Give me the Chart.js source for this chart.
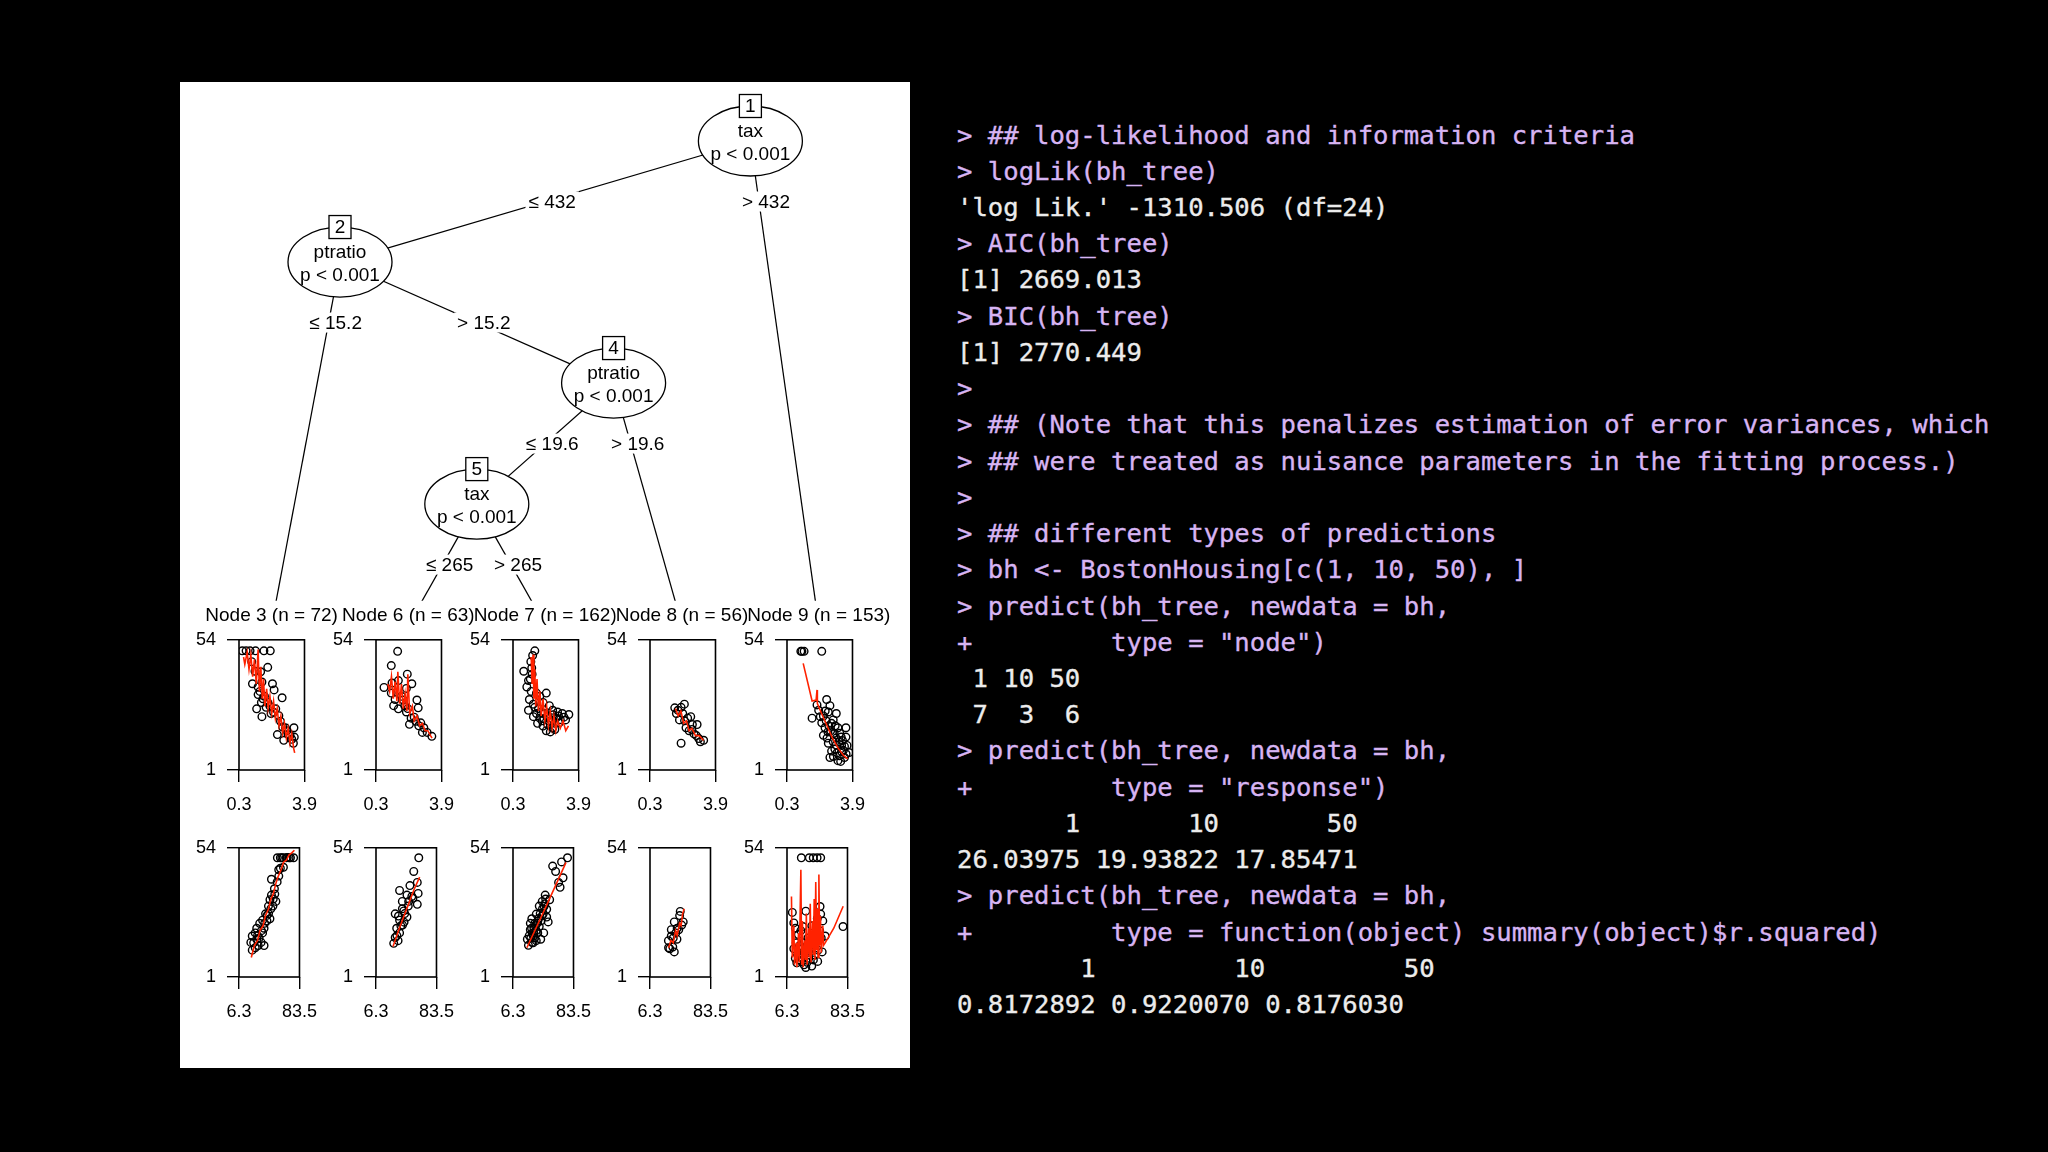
<!DOCTYPE html>
<html><head><meta charset="utf-8">
<script src="https://cdn.jsdelivr.net/npm/chart.js@4.4.1/dist/chart.umd.min.js"></script>
<style>
html,body{margin:0;padding:0;background:#000;width:2048px;height:1152px;overflow:hidden;}
#panel{position:absolute;left:180px;top:82px;width:730px;height:986px;background:#fff;}
canvas{position:absolute;}
#console{position:absolute;left:957px;top:116.5px;font-family:"DejaVu Sans Mono",monospace;font-size:25.6px;line-height:36.24px;white-space:pre;color:#ececec;-webkit-text-stroke:0.35px currentColor;}
#console .c{color:#d7b4f3;}
</style></head><body>
<div id="panel"></div>
<div id="console"></div>
<script>
// ---------------- tree structure ----------------
const treeNodeIds = [1, 2, 3, 4, 5, 6, 7, 8, 9];
const treeNodeX = [4.5, 1.5, 1, 3.5, 2.5, 2, 3, 4, 5];      // terminal-node index positions
const treeNodeLevel = [0, 1, 4, 2, 3, 4, 4, 4, 4];
const splitVariables = {1: 'tax', 2: 'ptratio', 4: 'ptratio', 5: 'tax'};
const splitPValues = {1: 'p < 0.001', 2: 'p < 0.001', 4: 'p < 0.001', 5: 'p < 0.001'};
const edgeParents = [1, 1, 2, 2, 4, 4, 5, 5];
const edgeChildren = [2, 9, 3, 4, 5, 8, 6, 7];
const edgeLabels = ['≤ 432', '> 432', '≤ 15.2', '> 15.2', '≤ 19.6', '> 19.6', '≤ 265', '> 265'];
const leafIds = [3, 6, 7, 8, 9];
const leafSizes = [72, 63, 162, 56, 153];

// ---------------- tick labels ----------------
const medvTicks = [1, 54];
const lstatTicks = [0.3, 3.9];
const rm2Ticks = [6.3, 83.5];

// ---------------- terminal node data: log(lstat) vs medv ----------------
const node3Lstat = [[0.48,49.5],[0.69,49.5],[0.91,49.5],[1.21,49.5],[1.67,49.5],[2.02,49.5],[1.00,45.1],[1.18,41.2],[1.49,41.0],[1.88,42.8],[1.04,36.1],[1.35,34.8],[1.56,36.8],[2.14,36.1],[2.23,33.6],[1.35,31.7],[1.70,31.0],[2.67,30.4],[1.53,28.5],[1.79,26.5],[1.56,22.7],[2.06,24.0],[2.32,25.9],[2.49,23.1],[2.58,20.8],[2.41,15.4],[2.76,13.1],[2.93,17.0],[3.11,15.1],[3.32,18.2],[3.34,14.4],[3.29,11.9],[2.85,18.2],[1.27,25.9],[1.88,28.5],[1.45,33.0],[1.62,30.0],[2.0,27.0],[2.2,24.5],[2.7,18.5],[3.0,15.5],[3.2,13.5]];
const node3LstatFit = [[0.55,47],[0.62,44],[0.75,49],[0.85,42],[0.95,48],[1.05,39],[1.15,46],[1.25,36],[1.35,50],[1.42,33],[1.5,43],[1.58,30],[1.65,38],[1.72,27],[1.82,34],[1.9,26],[2.0,31],[2.1,24],[2.2,29],[2.3,22],[2.4,26],[2.5,19],[2.6,23],[2.7,16],[2.8,20],[2.9,14],[3.0,18],[3.1,12],[3.2,16],[3.3,10],[3.36,8]];
const node6Lstat = [[1.49,49.3],[1.14,43.5],[0.74,34.6],[1.18,36.4],[1.53,37.4],[2.02,40.0],[2.27,36.1],[1.97,34.2],[2.55,29.5],[2.62,26.3],[1.14,32.3],[1.35,29.7],[1.70,31.0],[1.53,25.9],[1.97,24.6],[2.23,22.1],[2.49,20.8],[2.76,20.2],[2.93,18.2],[3.11,16.3],[3.37,14.7],[2.85,16.3],[1.88,27.2],[2.14,19.6],[1.27,27.2],[1.8,29.5],[2.05,26.0],[2.4,22.5],[2.65,19.0]];
const node6LstatFit = [[0.95,36],[1.05,33],[1.15,39],[1.25,30],[1.35,37],[1.45,29],[1.5,41],[1.6,28],[1.7,36],[1.8,26],[1.9,32],[2.0,25],[2.05,40],[2.15,24],[2.3,27],[2.4,21],[2.55,23],[2.7,19],[2.85,20],[3.0,17],[3.15,17],[3.3,15],[3.38,14]];
const node7Lstat = [[1.50,49.5],[1.38,47.6],[1.28,45.1],[1.33,42.5],[0.89,41.2],[1.15,37.4],[1.06,34.8],[1.20,29.7],[1.15,25.3],[1.42,27.8],[1.59,32.3],[1.77,31.0],[2.13,32.3],[1.95,28.5],[2.30,27.2],[2.48,25.3],[2.75,24.6],[3.01,24.0],[3.37,23.6],[3.19,21.4],[2.84,20.2],[2.48,18.2],[2.13,17.0],[1.95,18.9],[1.77,22.1],[1.59,24.0],[2.30,20.8],[2.66,22.1],[2.04,24.0],[1.42,22.7],[1.7,26],[1.85,24.5],[2.0,22],[2.2,23],[2.4,21],[2.6,20],[2.9,21.5],[2.2,19.5],[1.9,21],[1.65,20],[2.5,23.5],[2.8,23],[3.1,22.5],[2.35,16.5],[2.6,17.5],[1.5,26.5],[1.3,33],[1.25,38],[1.35,40]];
const node7LstatFit = [[1.3,47],[1.35,36],[1.4,48],[1.45,30],[1.5,42],[1.55,27],[1.62,38],[1.7,25],[1.78,33],[1.85,23],[1.95,30],[2.05,21],[2.15,27],[2.25,19],[2.35,25],[2.45,18],[2.55,23],[2.65,17],[2.75,21],[2.9,18],[3.05,21],[3.2,17],[3.35,19]];
const node8Lstat = [[1.66,26.3],[1.84,25.3],[2.01,26.5],[2.19,27.8],[2.10,24.0],[2.37,22.1],[2.54,22.7],[2.63,19.5],[2.89,19.5],[2.45,17.0],[2.72,15.7],[2.98,13.8],[3.25,13.1],[3.07,12.5],[2.01,11.9],[1.92,21.4],[2.28,18.2],[1.75,24.0],[2.2,21],[2.6,17.5],[2.85,15]];
const node8LstatFit = [[1.7,26],[1.85,23],[2.0,25],[2.15,20],[2.3,21],[2.45,17],[2.6,18],[2.8,15],[3.0,15],[3.25,13]];
const node9Lstat = [[1.06,49.3],[1.12,49.3],[1.24,49.3],[2.21,49.3],[2.48,29.7],[1.95,27.5],[2.04,25.3],[1.68,22.1],[2.57,24.6],[3.01,24.0],[2.84,21.4],[2.39,18.2],[3.10,18.2],[3.54,18.2],[2.30,15.1],[2.84,15.7],[3.28,14.4],[3.54,14.4],[2.57,11.9],[3.01,11.2],[3.46,10.6],[2.75,8.7],[3.19,6.8],[3.46,6.1],[3.10,4.8],[2.66,6.1],[2.13,22.7],[2.66,27.2],[2.21,20.2],[2.84,12.5],[3.72,8.1],[2.93,9.5],[3.30,8.5],[2.50,14.0],[2.3,23],[2.45,21],[2.6,19],[2.7,17],[2.9,16],[3.0,14],[3.15,12.5],[3.3,11],[3.4,9],[3.55,7.5],[2.75,20],[2.95,19],[3.2,16],[3.35,13],[2.55,16.5],[2.4,25],[3.05,8],[3.6,11],[3.25,4.5],[2.85,6.5]];
const node9LstatFit = [[1.19,44.4],[1.68,29.1],[1.9,29.5],[1.95,33.6],[1.97,28],[2.2,24],[2.5,19],[2.8,14],[3.1,10],[3.4,7],[3.63,5.5]];

// ---------------- terminal node data: rm^2 vs medv ----------------
const node3Rm2 = [[55.3,49.9],[59.1,49.9],[62.8,49.9],[66.6,49.9],[70.3,49.9],[76.0,49.9],[59.1,45.6],[57.1,42.4],[47.7,41.1],[51.5,37.2],[47.7,34.6],[53.4,32.0],[45.8,32.7],[43.9,30.1],[49.6,30.1],[40.2,26.9],[45.8,24.9],[36.4,24.3],[32.7,23.0],[28.9,21.0],[38.3,21.0],[27.0,19.1],[23.2,17.8],[21.4,15.2],[28.9,16.5],[34.5,15.2],[38.3,13.9],[30.8,13.9],[23.2,12.0],[36.4,19.1],[42.1,26.3],[25,15],[27,13],[30,18],[32,17],[35,20],[39,23],[42,24],[44,27],[47,29],[50,33],[52,35],[55,40],[57,45],[63,46],[68,50],[72,49.9],[61,49.9]];
const node3Rm2Fit = [[22,9],[26,14],[30,16],[33,20],[37,22],[40,26],[44,29],[47,33],[50,35],[53,39],[56,42],[60,45],[63,48],[67,49],[70,51],[74,52],[77,53]];
const node6Rm2 = [[60.9,49.9],[54.5,44.3],[59.0,39.8],[60.1,35.3],[36.4,36.5],[49.6,38.5],[45.8,34.6],[53.4,33.3],[39.9,32.0],[47.5,30.1],[41.8,28.1],[30.8,26.9],[45.8,25.6],[36.4,24.3],[40.2,22.3],[32.7,21.0],[36.4,19.1],[30.8,17.2],[28.9,14.8],[34.5,15.9],[42.1,23.5],[59.0,30.8],[33,18],[38,22],[43,27],[48,32],[52,34],[35,26],[40,29]];
const node6Rm2Fit = [[28,13.5],[35,20],[42,26],[48,31],[55,37],[62,42]];
const node7Rm2 = [[75.9,49.9],[68.3,48.2],[56.9,46.5],[60.7,44.3],[70.2,41.7],[66.4,37.8],[64.5,39.8],[47.4,34.6],[43.6,32.0],[53.1,32.7],[39.8,30.1],[49.3,28.8],[36.0,26.8],[43.6,26.2],[51.2,23.6],[30.3,24.9],[34.1,23.0],[39.8,21.7],[28.4,20.4],[37.9,19.1],[32.2,17.8],[24.6,16.5],[41.7,16.5],[30.3,15.2],[36.0,15.9],[45.5,19.1],[28.4,23.0],[49.3,25.6],[26,14],[33,19],[38,24],[44,29],[47,31],[27,18],[29,17],[31,19],[33,21],[35,22],[37,23],[39,25],[41,27],[42,24],[45,27],[46,30],[48,33],[32,15],[34,17],[30,21],[36,20]];
const node7Rm2Fit = [[24,13],[50,31],[74,48]];
const node8Rm2 = [[44.9,27.9],[44.1,26.2],[48.7,23.6],[37.3,23.6],[33.5,20.4],[39.2,19.1],[29.8,15.9],[40.7,16.5],[35.4,13.3],[31.6,12.6],[37.3,11.3],[43.0,20.4],[46.8,22.3],[33.5,17.8],[36,17],[41,21],[30,13]];
const node8Rm2Fit = [[30,13],[33,16],[36,15],[39,20],[41,18],[44,23],[46,22],[48,27],[50,29]];
const node9Rm2 = [[24.6,49.9],[34.8,49.9],[39.8,49.9],[44.7,49.9],[49.3,49.9],[13.1,27.5],[15.0,23.2],[30.3,28.0],[48.5,29.9],[49.3,26.8],[77.8,21.7],[26.5,21.7],[20.8,18.4],[55.0,17.8],[15.0,12.6],[16.9,8.7],[30.3,4.9],[37.9,5.5],[45.5,7.4],[51.2,11.3],[24.6,7.4],[34.1,8.7],[41.7,10.0],[22.7,13.9],[43.6,19.1],[36.0,15.2],[28.4,11.3],[18.8,6.8],[20,10],[22,8],[26,9],[28,6],[32,7],[35,11],[38,13],[40,8],[42,14],[44,16],[46,12],[48,20],[50,17],[52,24],[33,17],[27,15],[24,20],[38,22],[45,25],[30,13],[18,15],[17,21]];
const node9Rm2Fit = [[12,34],[13,9],[15,22],[16,6],[18,15],[19,5],[21,19],[22,7],[24,45],[25,6],[26,24],[27,5],[29,16],[30,8],[31,27],[32,6],[34,21],[35,9],[36,31],[37,7],[39,24],[40,10],[41,33],[42,8],[43,40],[44,12],[45,29],[46,9],[47,43],[48,14],[49,26],[50,11],[52,22],[53,14],[55,15],[66,21],[78,30]];

const topRowPoints = [node3Lstat, node6Lstat, node7Lstat, node8Lstat, node9Lstat];
const topRowFits = [node3LstatFit, node6LstatFit, node7LstatFit, node8LstatFit, node9LstatFit];
const bottomRowPoints = [node3Rm2, node6Rm2, node7Rm2, node8Rm2, node9Rm2];
const bottomRowFits = [node3Rm2Fit, node6Rm2Fit, node7Rm2Fit, node8Rm2Fit, node9Rm2Fit];

// ---------------- console text ----------------
const consoleLines = [
 "> ## log-likelihood and information criteria",
 "> logLik(bh_tree)",
 "'log Lik.' -1310.506 (df=24)",
 "> AIC(bh_tree)",
 "[1] 2669.013",
 "> BIC(bh_tree)",
 "[1] 2770.449",
 ">",
 "> ## (Note that this penalizes estimation of error variances, which",
 "> ## were treated as nuisance parameters in the fitting process.)",
 ">",
 "> ## different types of predictions",
 "> bh <- BostonHousing[c(1, 10, 50), ]",
 "> predict(bh_tree, newdata = bh,",
 "+         type = \"node\")",
 " 1 10 50",
 " 7  3  6",
 "> predict(bh_tree, newdata = bh,",
 "+         type = \"response\")",
 "       1       10       50",
 "26.03975 19.93822 17.85471",
 "> predict(bh_tree, newdata = bh,",
 "+         type = function(object) summary(object)$r.squared)",
 "        1         10         50",
 "0.8172892 0.9220070 0.8176030"
];
const con = document.getElementById('console');
consoleLines.forEach(l => {
  const d = document.createElement('div');
  d.textContent = l;
  if (l.startsWith('>') || l.startsWith('+')) d.className = 'c';
  con.appendChild(d);
});

// ---------------- charts ----------------
Chart.defaults.animation = false;
Chart.defaults.font.family = '"Liberation Sans", Arial, sans-serif';
Chart.defaults.plugins.legend.display = false;
Chart.defaults.plugins.tooltip.enabled = false;

const TREE_FONT = '19px "Liberation Sans", Arial, sans-serif';
const LEAF_LABEL_LEVEL = 3.916;
const EDGE_LABEL_SHIFT = 7;
const idx = id => treeNodeIds.indexOf(id);

const treePlugin = {
  id: 'treePlugin',
  afterDraw(chart) {
    const ctx = chart.ctx, sx = chart.scales.x, sy = chart.scales.y;
    ctx.save();
    ctx.font = TREE_FONT;
    ctx.textAlign = 'center';
    ctx.textBaseline = 'middle';
    edgeParents.forEach((p, i) => {
      const a = idx(p), b = idx(edgeChildren[i]);
      const t = 0.5 / (treeNodeLevel[b] - treeNodeLevel[a]);
      const xv = treeNodeX[a] + t * (treeNodeX[b] - treeNodeX[a]);
      const px = sx.getPixelForValue(xv) + EDGE_LABEL_SHIFT;
      const py = sy.getPixelForValue(treeNodeLevel[a] + 0.5);
      const w = ctx.measureText(edgeLabels[i]).width;
      ctx.fillStyle = '#fff';
      ctx.fillRect(px - w / 2 - 3, py - 10, w + 6, 20);
      ctx.fillStyle = '#000';
      ctx.fillText(edgeLabels[i], px, py + 1);
    });
    Object.keys(splitVariables).forEach(k => {
      const id = +k, i = idx(id);
      const cx = sx.getPixelForValue(treeNodeX[i]);
      const cy = sy.getPixelForValue(treeNodeLevel[i]);
      ctx.beginPath();
      ctx.ellipse(cx, cy, 52, 35, 0, 0, Math.PI * 2);
      ctx.fillStyle = '#fff'; ctx.fill();
      ctx.lineWidth = 1.3; ctx.strokeStyle = '#000'; ctx.stroke();
      ctx.fillStyle = '#000';
      ctx.fillText(splitVariables[id], cx, cy - 9);
      ctx.fillText(splitPValues[id], cx, cy + 14);
      ctx.fillStyle = '#fff';
      ctx.fillRect(cx - 11, cy - 35 - 11.5, 22, 23);
      ctx.lineWidth = 1.3;
      ctx.strokeRect(cx - 11, cy - 35 - 11.5, 22, 23);
      ctx.fillStyle = '#000';
      ctx.fillText(String(id), cx, cy - 34);
    });
    leafIds.forEach((id, k) => {
      const i = idx(id);
      const cx = sx.getPixelForValue(treeNodeX[i]);
      const cy = sy.getPixelForValue(LEAF_LABEL_LEVEL);
      const txt = 'Node ' + id + ' (n = ' + leafSizes[k] + ')';
      const w = ctx.measureText(txt).width;
      ctx.fillStyle = '#fff';
      ctx.fillRect(cx - w / 2, cy - 11, w, 22);
      ctx.fillStyle = '#000';
      ctx.fillText(txt, cx, cy + 1);
    });
    ctx.restore();
  }
};

function addCanvas(left, top, w, h) {
  const cv = document.createElement('canvas');
  cv.width = w; cv.height = h;
  cv.style.left = Math.round(left) + 'px';
  cv.style.top = Math.round(top) + 'px';
  cv.style.width = w + 'px'; cv.style.height = h + 'px';
  document.body.appendChild(cv);
  return cv;
}

const treeCanvas = addCanvas(180, 82, 730, 548);
const treeChart = new Chart(treeCanvas, {
  type: 'scatter',
  data: {
    datasets: edgeParents.map((p, i) => ({
      data: [
        {x: treeNodeX[idx(p)], y: treeNodeLevel[idx(p)]},
        {x: treeNodeX[idx(edgeChildren[i])], y: treeNodeLevel[idx(edgeChildren[i])]}
      ],
      showLine: true, borderColor: '#000', borderWidth: 1.25, pointRadius: 0, tension: 0
    }))
  },
  options: {
    responsive: false, devicePixelRatio: 1, events: [],
    layout: {padding: {left: 0, right: 0, top: 0, bottom: 29.2}},
    scales: {
      x: {type: 'linear', display: false, min: 0.3304, max: 5.6667},
      y: {type: 'linear', display: false, reverse: true, min: -0.4875, max: 3.799}
    }
  },
  plugins: [treePlugin]
});

const boxPlugin = {
  id: 'boxPlugin',
  afterDraw(chart) {
    const {ctx, chartArea: a} = chart;
    ctx.save();
    ctx.strokeStyle = '#000'; ctx.lineWidth = 1.6;
    ctx.strokeRect(a.left, a.top, a.right - a.left, a.bottom - a.top);
    ctx.restore();
  }
};

const PANEL_SHIFT = 2;
function makePanel(cx, boxTop, boxH, pts, fit, xTicks) {
  const W = 152, H = 14 + boxH + 50;
  const cv = addCanvas(cx + PANEL_SHIFT - 34.2 - 62, boxTop - 14, W, H);
  return new Chart(cv, {
    type: 'scatter',
    data: {
      datasets: [
        {data: fit.map(([x, y]) => ({x, y})), showLine: true, borderColor: '#ff2200', borderWidth: 1.6,
         pointRadius: 0, tension: 0},
        {data: pts.map(([x, y]) => ({x, y})), showLine: false, pointRadius: 3.8, pointBorderWidth: 1.4,
         pointBorderColor: '#000', pointBackgroundColor: 'rgba(0,0,0,0)'}
      ]
    },
    options: {
      responsive: false, devicePixelRatio: 1, events: [],
      layout: {padding: {left: 0, right: 22, top: 14, bottom: 0}},
      scales: {
        x: {
          type: 'linear', min: xTicks[0], max: xTicks[1],
          afterBuildTicks: s => { s.ticks = xTicks.map(v => ({value: v})); },
          afterFit: s => { s.height = 50; },
          ticks: {color: '#000', font: {size: 18}, padding: 12, maxRotation: 0, autoSkip: false,
                  callback: v => String(v)},
          grid: {display: true, drawOnChartArea: false, drawTicks: true, tickLength: 12, color: '#000', lineWidth: 1.4},
          border: {display: false}
        },
        y: {
          type: 'linear', min: medvTicks[0], max: medvTicks[1],
          afterBuildTicks: s => { s.ticks = medvTicks.map(v => ({value: v})); },
          afterFit: s => { s.width = 62; },
          ticks: {color: '#000', font: {size: 18}, padding: 11, autoSkip: false, callback: v => String(v)},
          grid: {display: true, drawOnChartArea: false, drawTicks: true, tickLength: 12, color: '#000', lineWidth: 1.4},
          border: {display: false}
        }
      }
    },
    plugins: [boxPlugin]
  });
}

const leafPx = leafIds.map(id => 180 + treeChart.scales.x.getPixelForValue(treeNodeX[idx(id)]));
leafPx.forEach((cx, k) => {
  makePanel(cx, 632, 138, topRowPoints[k], topRowFits[k], lstatTicks);
  makePanel(cx, 840, 137, bottomRowPoints[k], bottomRowFits[k], rm2Ticks);
});
</script>
</body></html>
